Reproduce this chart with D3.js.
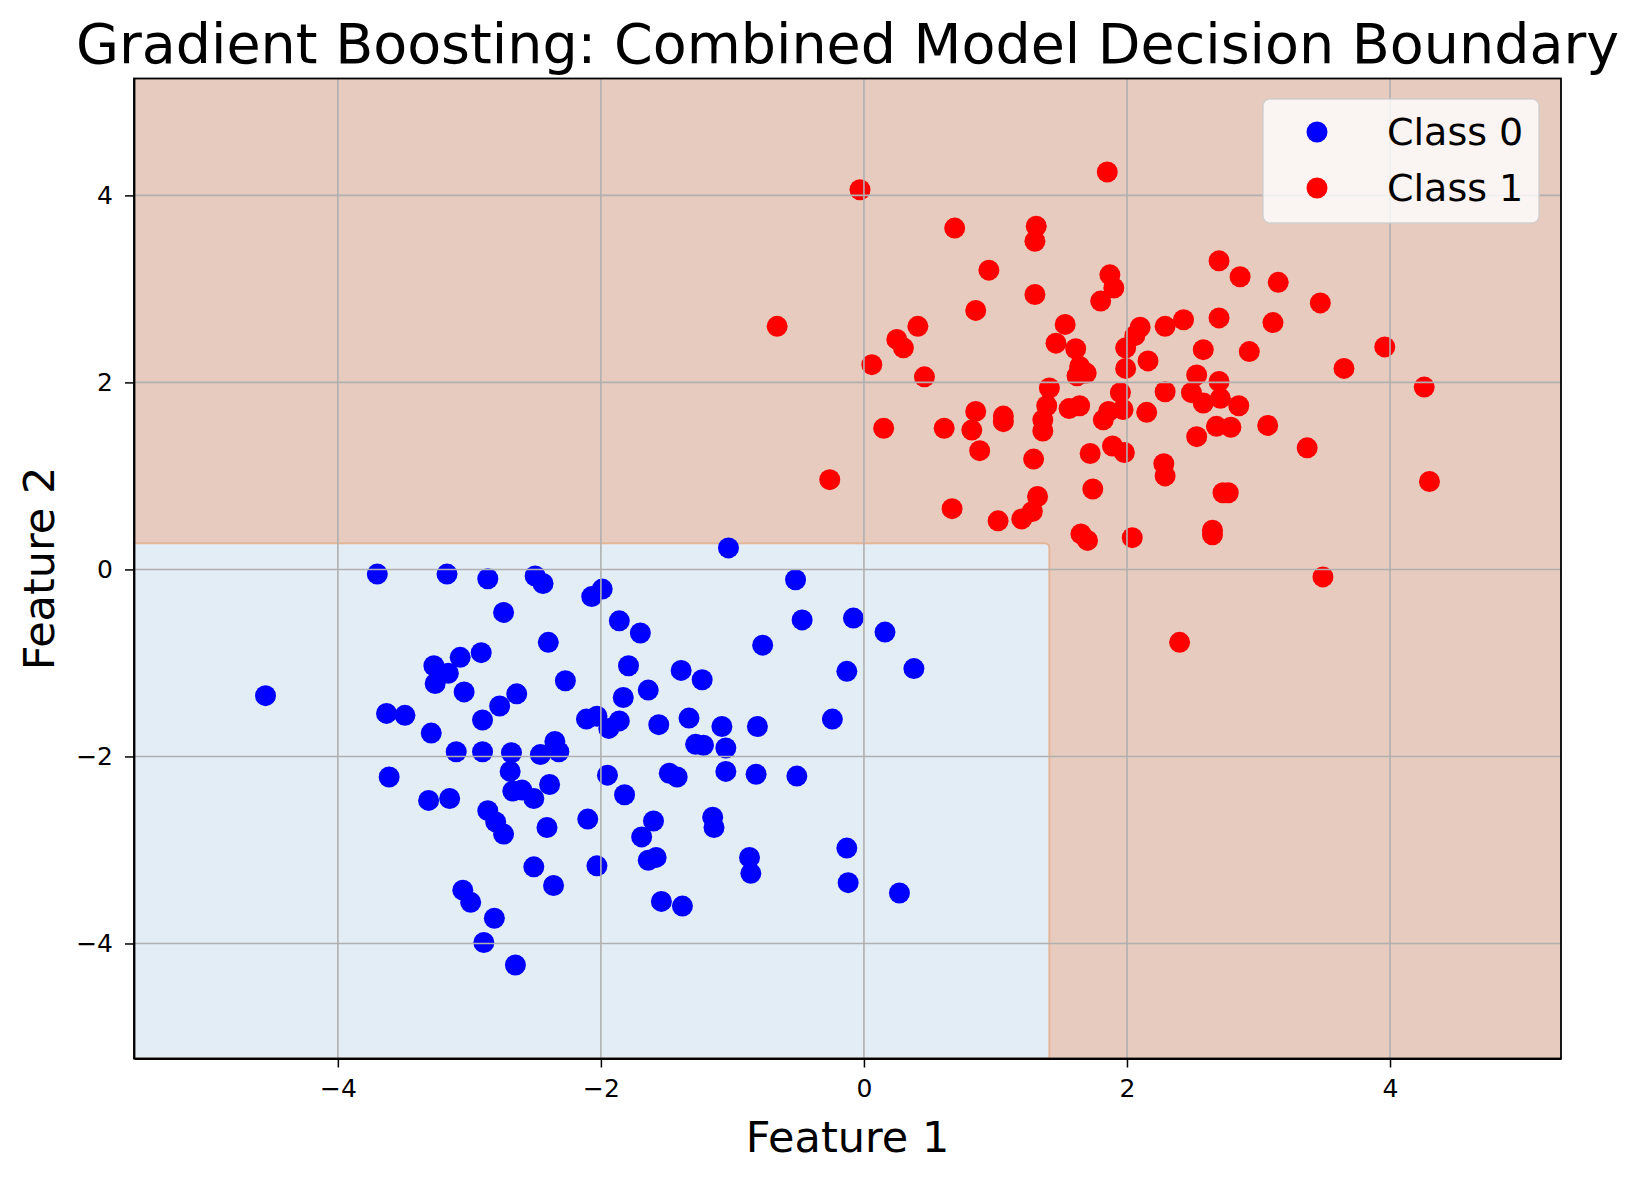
<!DOCTYPE html>
<html lang="en">
<head>
<meta charset="utf-8">
<title>Gradient Boosting decision boundary</title>
<script src="https://cdn.jsdelivr.net/npm/d3@7"></script>
<style>
  body { margin: 0; background: #fff; }
  svg text { font-family: "DejaVu Sans", sans-serif; fill: #000; }
  .axis path { stroke: #000; stroke-width: 1.8px; }
  .axis line { stroke: #000; stroke-width: 1.5px; }
</style>
</head>
<body>
<script>

var w = 1638;
var h = 1180;

// class 0 (blue) points
var class0X = [-4.55, -3.70, -3.17, -2.86, -2.50, -2.44, -1.99, -2.07, -2.74, -2.40,
               -2.91, -3.07, -3.27, -3.16, -3.26, -3.04, -2.27, -2.64, -2.77, -2.90,
               -3.63, -3.49, -3.29, -2.11, -2.03, -1.94, -3.10, -2.90, -2.68, -2.46,
               -2.35, -2.32, -3.61, -3.31, -3.15, -2.69, -2.67, -2.60, -2.51, -2.39,
               -2.86, -2.80, -2.74, -2.41, -2.10, -2.03, -1.95, -2.51, -2.36, -3.05,
               -2.99, -2.81, -2.89, -2.65, -1.03, -0.52, -1.86, -1.70, -0.47, -0.08,
                0.16, -0.77, 0.38, -0.13, -1.79, -1.39, -1.23, -1.64, -1.83, -1.86,
               -1.56, -1.33, -1.08, -0.81, -0.24, -1.28, -1.22, -1.05, -1.82, -1.48,
               -1.42, -1.05, -0.82, -0.51, -1.60, -1.69, -1.15, -1.14, -1.64, -1.58,
               -0.87, -0.86, -0.13, -0.12, 0.27, -1.54, -1.38];
var class0Y = [-1.35, -0.05, -0.05, -0.10, -0.07, -0.15, -0.21, -0.29, -0.46, -0.78,
               -0.89, -0.94, -1.03, -1.11, -1.22, -1.31, -1.19, -1.33, -1.46, -1.61,
               -1.54, -1.56, -1.75, -1.60, -1.57, -1.70, -1.95, -1.95, -1.96, -1.98,
               -1.84, -1.95, -2.22, -2.47, -2.45, -2.16, -2.37, -2.36, -2.45, -2.30,
               -2.58, -2.70, -2.83, -2.76, -2.67, -3.17, -2.20, -3.18, -3.38, -3.43,
               -3.56, -3.73, -3.99, -4.23, 0.23, -0.11, -0.55, -0.68, -0.54, -0.52,
               -0.67, -0.81, -1.06, -1.09, -1.03, -1.08, -1.18, -1.29, -1.37, -1.62,
               -1.66, -1.59, -1.68, -1.68, -1.60, -1.87, -1.88, -1.91, -2.41, -2.18,
               -2.22, -2.16, -2.19, -2.21, -2.69, -2.86, -2.65, -2.76, -3.11, -3.08,
               -3.08, -3.25, -2.98, -3.35, -3.46, -3.55, -3.60];

// class 1 (red) points
var class1X = [-0.03, 1.85, 0.69, 1.31, 1.30, 2.70, 2.86, 3.15, 0.95, 1.87,
               1.90, 1.80, 1.30, 3.47, 0.85, -0.66, 0.41, 2.70, 3.11, 2.43,
               2.29, 1.53, 2.10, 0.25, 0.30, 3.96, 1.46, 1.61, 1.99, 2.06,
               2.58, 2.93, 2.16, 0.06, 1.64, 1.69, 1.62, 1.99, 3.65, 0.46,
               2.53, 2.70, 1.41, 1.95, 2.29, 2.49, 2.58, 2.71, 2.85, 1.39,
               1.64, 1.56, 1.86, 1.97, 2.15, 0.85, 1.06, 1.06, 1.36, 1.82,
               0.82, 1.36, 0.15, 0.61, 2.68, 2.79, 3.07, 2.53, 3.37, 0.88,
               1.89, 1.98, 1.72, 1.29, 2.28, 2.29, -0.26, 1.74, 2.77, 2.73,
               1.32, 0.67, 1.02, 1.20, 1.28, 1.65, 1.70, 2.04, 2.65, 2.65,
               3.49, 2.40, 4.30, 4.26];
var class1Y = [4.06, 4.25, 3.65, 3.67, 3.51, 3.30, 3.13, 3.07, 3.20, 3.15,
               3.01, 2.87, 2.94, 2.85, 2.77, 2.60, 2.60, 2.69, 2.64, 2.67,
               2.60, 2.62, 2.59, 2.46, 2.37, 2.38, 2.42, 2.36, 2.37, 2.50,
               2.35, 2.33, 2.23, 2.19, 2.17, 2.10, 2.07, 2.15, 2.15, 2.06,
               2.08, 2.01, 1.94, 1.89, 1.90, 1.89, 1.78, 1.83, 1.75, 1.75,
               1.75, 1.72, 1.69, 1.71, 1.68, 1.69, 1.64, 1.58, 1.60, 1.60,
               1.49, 1.48, 1.51, 1.51, 1.53, 1.52, 1.54, 1.42, 1.30, 1.27,
               1.32, 1.25, 1.24, 1.18, 1.13, 1.00, 0.96, 0.86, 0.82, 0.82,
               0.78, 0.65, 0.52, 0.54, 0.62, 0.38, 0.31, 0.34, 0.42, 0.37,
               -0.08, -0.78, 0.94, 1.95];

// combined model: class 0 where x < splitX and y < splitY
var splitX = 1.41;
var splitY = 0.28;

var xTicks = [-4, -2, 0, 2, 4];
var yTicks = [-4, -2, 0, 2, 4];
var classNames = ["Class 0", "Class 1"];
var classColors = ["#0000ff", "#ff0000"];

var plotLeft = 134, plotRight = 1561, plotTop = 78.5, plotBottom = 1058.5;

var allX = class0X.concat(class1X);
var allY = class0Y.concat(class1Y);

var xScale = d3.scaleLinear()
               .domain([d3.min(allX) - 1, d3.max(allX) + 1])
               .range([plotLeft, plotRight]);

var yScale = d3.scaleLinear()
               .domain([d3.min(allY) - 1, d3.max(allY) + 1])
               .range([plotBottom, plotTop]);

var svg = d3.select("body")
            .append("svg")
            .attr("width", w)
            .attr("height", h);

var xd = xScale.domain(), yd = yScale.domain();

// decision regions
svg.append("rect")
   .attr("x", xScale(xd[0]))
   .attr("y", yScale(yd[1]))
   .attr("width", xScale(xd[1]) - xScale(xd[0]))
   .attr("height", yScale(yd[0]) - yScale(yd[1]))
   .attr("fill", "#e7cbbe");

svg.append("path")
   .attr("d", function() {
       var x0 = xScale(xd[0]), x1 = xScale(splitX);
       var y0 = yScale(yd[0]), y1 = yScale(splitY);
       var r = 5;
       return "M" + x0 + "," + y1 + "L" + (x1 - r) + "," + y1 +
              "Q" + x1 + "," + y1 + " " + x1 + "," + (y1 + r) +
              "L" + x1 + "," + y0 + "L" + x0 + "," + y0 + "Z";
   })
   .attr("fill", "#e3edf6")
   .attr("stroke", "#e4b597")
   .attr("stroke-width", 2);

// scatter points
var points = [];
class0X.forEach(function(v, i) { points.push({x: v, y: class0Y[i], c: 0}); });
class1X.forEach(function(v, i) { points.push({x: v, y: class1Y[i], c: 1}); });

svg.selectAll("circle.pt")
   .data(points)
   .enter()
   .append("circle")
   .attr("class", "pt")
   .attr("cx", function(d) { return xScale(d.x); })
   .attr("cy", function(d) { return yScale(d.y); })
   .attr("r", 10.5)
   .attr("fill", function(d) { return classColors[d.c]; });

// grid (drawn above the points, like matplotlib)
svg.selectAll("line.gx")
   .data(xTicks)
   .enter()
   .append("line")
   .attr("x1", function(d) { return xScale(d); })
   .attr("x2", function(d) { return xScale(d); })
   .attr("y1", plotTop)
   .attr("y2", plotBottom)
   .attr("stroke", "#b0b0b0")
   .attr("stroke-width", 1.6);

svg.selectAll("line.gy")
   .data(yTicks)
   .enter()
   .append("line")
   .attr("x1", plotLeft)
   .attr("x2", plotRight)
   .attr("y1", function(d) { return yScale(d); })
   .attr("y2", function(d) { return yScale(d); })
   .attr("stroke", "#b0b0b0")
   .attr("stroke-width", 1.6);

// axes
var xAxis = d3.axisBottom(xScale).tickValues(xTicks).tickSize(9).tickPadding(12).tickSizeOuter(0);
var yAxis = d3.axisLeft(yScale).tickValues(yTicks).tickSize(9).tickPadding(12).tickSizeOuter(0);

svg.append("g")
   .attr("class", "axis")
   .attr("transform", "translate(0," + plotBottom + ")")
   .call(xAxis)
   .selectAll("text")
   .attr("font-size", "25px")
   .attr("font-family", "DejaVu Sans");

svg.append("g")
   .attr("class", "axis")
   .attr("transform", "translate(" + plotLeft + ",0)")
   .call(yAxis)
   .selectAll("text")
   .attr("font-size", "25px")
   .attr("font-family", "DejaVu Sans");

// frame
svg.append("rect")
   .attr("x", plotLeft)
   .attr("y", plotTop)
   .attr("width", plotRight - plotLeft)
   .attr("height", plotBottom - plotTop)
   .attr("fill", "none")
   .attr("stroke", "#000")
   .attr("stroke-width", 1.8);

// titles
svg.append("text")
   .attr("x", (plotLeft + plotRight) / 2)
   .attr("y", 63)
   .attr("text-anchor", "middle")
   .attr("font-size", "55.5px")
   .text("Gradient Boosting: Combined Model Decision Boundary");

svg.append("text")
   .attr("x", (plotLeft + plotRight) / 2)
   .attr("y", 1152)
   .attr("text-anchor", "middle")
   .attr("font-size", "43px")
   .text("Feature 1");

svg.append("text")
   .attr("transform", "translate(54," + ((plotTop + plotBottom) / 2) + ") rotate(-90)")
   .attr("text-anchor", "middle")
   .attr("font-size", "43px")
   .text("Feature 2");

// legend
var legend = svg.append("g").attr("transform", "translate(1263,99)");

legend.append("rect")
      .attr("width", 276)
      .attr("height", 124)
      .attr("rx", 7)
      .attr("fill", "#ffffff")
      .attr("fill-opacity", 0.8)
      .attr("stroke", "#cccccc")
      .attr("stroke-opacity", 0.8)
      .attr("stroke-width", 1.5);

var items = legend.selectAll("g.item")
                  .data(classNames)
                  .enter()
                  .append("g")
                  .attr("transform", function(d, i) { return "translate(0," + (33 + i * 56) + ")"; });

items.append("circle")
     .attr("cx", 54)
     .attr("cy", 0)
     .attr("r", 10.5)
     .attr("fill", function(d, i) { return classColors[i]; });

items.append("text")
     .attr("x", 124)
     .attr("y", 0)
     .attr("dy", "0.33em")
     .attr("font-size", "38px")
     .text(function(d) { return d; });

</script>
</body>
</html>
